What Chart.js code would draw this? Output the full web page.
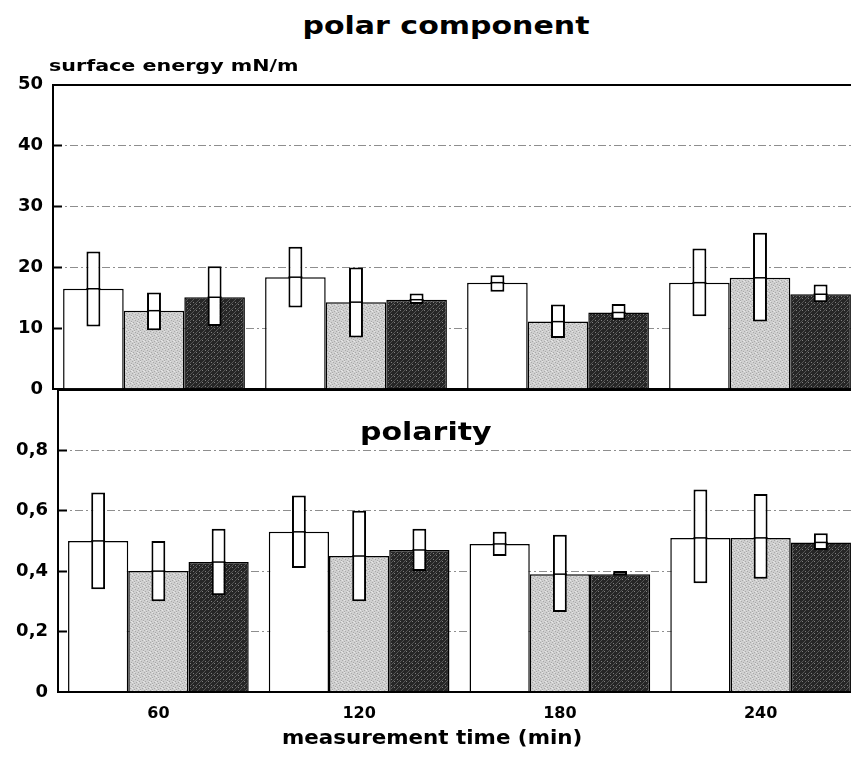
<!DOCTYPE html>
<html>
<head>
<meta charset="utf-8">
<script src="https://cdn.jsdelivr.net/npm/chart.js@4.4.1/dist/chart.umd.min.js"></script>
<style>
  html, body { margin: 0; padding: 0; background: #fff; overflow: hidden; }
  #page { position: relative; width: 851px; height: 759px; overflow: hidden; background: #fff; }
  canvas { position: absolute; left: 0; }
  .t { position: absolute; white-space: nowrap; font-family: "DejaVu Sans", sans-serif; font-weight: bold; line-height: 1; color: #000; }
</style>
</head>
<body>
<div id="page">
  <canvas id="c1" width="861" height="364" style="top:55px"></canvas>
  <canvas id="c2" width="861" height="399" style="top:360px"></canvas>
  <div class="t" id="title1" style="left:446px; top:13px; font-size:25px; transform: translateX(-50%) scaleX(1.2);">polar component</div>
  <div class="t" id="ylab" style="left:49px; top:58px; font-size:16px; transform-origin:0 0; transform: scaleX(1.29);">surface energy mN/m</div>
  <div class="t" id="title2" style="left:360px; top:420px; font-size:24px; transform-origin:0 0; transform: scaleX(1.25);">polarity</div>
  <div class="t" id="xlab" style="left:282px; top:727px; font-size:20px; transform-origin:0 0; transform: scaleX(1.07);">measurement time (min)</div>
</div>
<script>
// ---- data ----
const categories = ['60', '120', '180', '240'];

// polar component (mN/m): mean and min/max range boxes
const polarWhite     = [16.5, 18.4, 17.5, 17.5];
const polarWhiteLow  = [10.3, 13.4, 16.0, 12.0];
const polarWhiteHigh = [22.6, 23.4, 18.7, 23.1];
const polarGray      = [12.9, 14.3, 11.1, 18.3];
const polarGrayLow   = [9.7, 8.5, 8.4, 11.1];
const polarGrayHigh  = [15.9, 20.0, 13.9, 25.7];
const polarDark      = [15.1, 14.7, 12.6, 15.6];
const polarDarkLow   = [10.4, 14.0, 11.4, 14.3];
const polarDarkHigh  = [20.2, 15.7, 14.0, 17.2];

// polarity: mean and min/max range boxes
const polarityWhite     = [0.50, 0.53, 0.49, 0.51];
const polarityWhiteLow  = [0.34, 0.41, 0.45, 0.36];
const polarityWhiteHigh = [0.66, 0.65, 0.53, 0.67];
const polarityGray      = [0.40, 0.45, 0.39, 0.51];
const polarityGrayLow   = [0.30, 0.30, 0.265, 0.375];
const polarityGrayHigh  = [0.50, 0.60, 0.52, 0.655];
const polarityDark      = [0.43, 0.47, 0.39, 0.495];
const polarityDarkLow   = [0.32, 0.40, 0.385, 0.47];
const polarityDarkHigh  = [0.54, 0.54, 0.40, 0.525];

// tick labels
const polarTicks = [0, 10, 20, 30, 40, 50];
const polarTickLabels = ['0', '10', '20', '30', '40', '50'];
const polarityTicks = [0, 0.2, 0.4, 0.6, 0.8, 1.0];
const polarityTickLabels = ['0', '0,2', '0,4', '0,6', '0,8', ''];

// ---- styles ----
function makePattern(kind) {
  const c = document.createElement('canvas');
  const s = 6;
  c.width = s; c.height = s;
  const g = c.getContext('2d');
  if (kind === 'gray') {
    g.fillStyle = '#cfcfcf'; g.fillRect(0, 0, s, s);
    g.fillStyle = '#a9a9a9';
    [[0,0],[3,1],[1,3],[4,4],[2,5],[5,2]].forEach(p => g.fillRect(p[0], p[1], 1, 1));
    g.fillStyle = '#e6e6e6';
    [[2,0],[5,3],[0,4]].forEach(p => g.fillRect(p[0], p[1], 1, 1));
  } else {
    g.fillStyle = '#262626'; g.fillRect(0, 0, s, s);
    g.fillStyle = '#555';
    for (let i = 0; i < s; i++) g.fillRect((s - 1 - i), i, 1, 1);
    g.fillStyle = '#808080';
    [[1,1],[4,3]].forEach(p => g.fillRect(p[0], p[1], 1, 1));
  }
  return g.createPattern(c, 'repeat');
}
const whiteFill = '#ffffff';
const grayFill = makePattern('gray');
const darkFill = makePattern('dark');

Chart.defaults.font.family = '"DejaVu Sans", sans-serif';
Chart.defaults.color = '#000';

function pairs(lo, hi) { return lo.map((v, i) => [v, hi[i]]); }

function buildDatasets(means, lows, highs) {
  const fills = [whiteFill, grayFill, darkFill];
  const ds = [];
  for (let k = 0; k < 3; k++) {
    ds.push({
      kind: 'range', stack: 's' + k, order: 0,
      data: pairs(lows[k], highs[k]),
      backgroundColor: '#fff', borderColor: '#000', borderWidth: 2,
      borderSkipped: false, barPercentage: 0.23, categoryPercentage: 0.9
    });
  }
  for (let k = 0; k < 3; k++) {
    ds.push({
      kind: 'mean', stack: 's' + k, order: 1,
      data: means[k],
      backgroundColor: fills[k], borderColor: '#000', borderWidth: 1.5,
      barPercentage: 1.0, categoryPercentage: 0.9
    });
  }
  return ds;
}

const meanLinePlugin = {
  id: 'meanLine',
  afterDatasetsDraw(chart) {
    const ctx = chart.ctx;
    chart.data.datasets.forEach((ds, i) => {
      if (ds.kind !== 'mean') return;
      const meta = chart.getDatasetMeta(i);
      const bi = chart.data.datasets.findIndex(d => d.kind === 'range' && d.stack === ds.stack);
      const bmeta = chart.getDatasetMeta(bi);
      meta.data.forEach((el, j) => {
        const b = bmeta.data[j];
        ctx.save();
        ctx.strokeStyle = '#000';
        ctx.lineWidth = 1.5;
        ctx.beginPath();
        ctx.moveTo(b.x - b.width / 2, el.y);
        ctx.lineTo(b.x + b.width / 2, el.y);
        ctx.stroke();
        ctx.restore();
      });
    });
  }
};

function isEdge(ctx, lo, hi) {
  return ctx.tick && (Math.abs(ctx.tick.value - lo) < 1e-9 || Math.abs(ctx.tick.value - hi) < 1e-9);
}

function yScale(tickVals, tickLabels, lo, hi, axisWidth) {
  return {
    min: lo, max: hi, stacked: false,
    afterBuildTicks: s => { s.ticks = tickVals.map(v => ({ value: v })); },
    afterFit: s => { s.width = axisWidth; },
    ticks: {
      padding: 19,
      font: { size: 18, weight: 'bold' },
      color: '#000',
      callback: (v, i) => tickLabels[i]
    },
    grid: {
      drawTicks: true,
      tickLength: -9,
      tickColor: '#000',
      tickWidth: 2,
      tickBorderDash: [],
      color: c => isEdge(c, lo, hi) ? '#000' : '#8e8e8e',
      lineWidth: c => isEdge(c, lo, hi) ? 2 : 1
    },
    border: {
      display: true, color: '#000', width: 2,
      dash: c => isEdge(c, lo, hi) || !c.tick ? [] : [8, 3, 2, 3]
    }
  };
}

function xScale(showLabels, height) {
  return {
    afterFit: s => { s.height = height; },
    grid: {
      display: true, drawOnChartArea: false, drawTicks: true, offset: false,
      tickLength: -6, tickColor: '#000', tickWidth: 2
    },
    border: { display: showLabels, color: '#000', width: 2 },
    ticks: { display: showLabels, padding: 18, font: { size: 16, weight: 'bold' }, color: '#000', maxRotation: 0 }
  };
}

// top panel: polar component
new Chart(document.getElementById('c1'), {
  type: 'bar',
  data: {
    labels: categories,
    datasets: buildDatasets(
      [polarWhite, polarGray, polarDark],
      [polarWhiteLow, polarGrayLow, polarDarkLow],
      [polarWhiteHigh, polarGrayHigh, polarDarkHigh])
  },
  options: {
    responsive: false, animation: false, devicePixelRatio: 1,
    layout: { padding: { left: 0, right: 0, top: 0, bottom: 0 } },
    plugins: { legend: { display: false }, tooltip: { enabled: false } },
    scales: {
      x: xScale(false, 0),
      y: yScale(polarTicks, polarTickLabels, 0, 50, 53)
    }
  },
  plugins: [meanLinePlugin]
});

// bottom panel: polarity
new Chart(document.getElementById('c2'), {
  type: 'bar',
  data: {
    labels: categories,
    datasets: buildDatasets(
      [polarityWhite, polarityGray, polarityDark],
      [polarityWhiteLow, polarityGrayLow, polarityDarkLow],
      [polarityWhiteHigh, polarityGrayHigh, polarityDarkHigh])
  },
  options: {
    responsive: false, animation: false, devicePixelRatio: 1,
    layout: { padding: { left: 0, right: 0, top: 0, bottom: 0 } },
    plugins: { legend: { display: false }, tooltip: { enabled: false } },
    scales: {
      x: xScale(true, 67),
      y: yScale(polarityTicks, polarityTickLabels, 0, 1.0, 58)
    }
  },
  plugins: [meanLinePlugin]
});
</script>
</body>
</html>
